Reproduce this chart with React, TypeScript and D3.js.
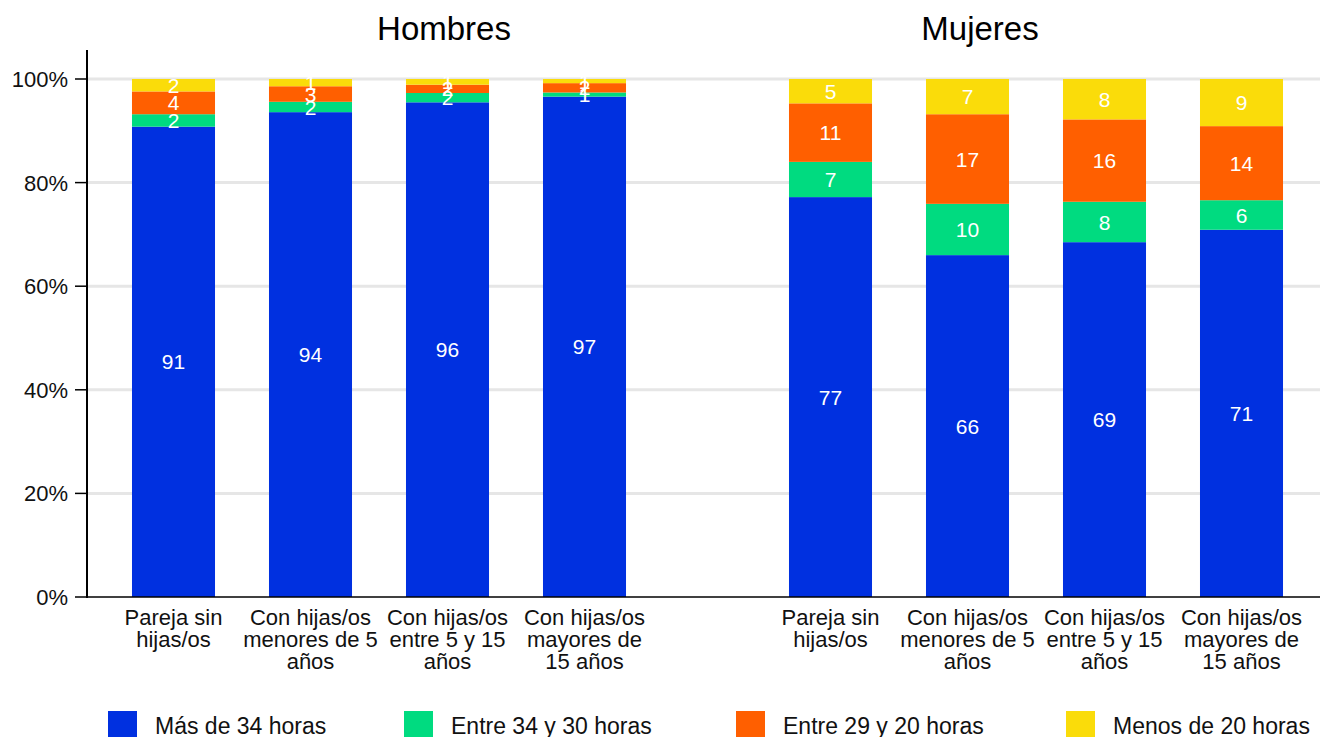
import React from "react";
import * as d3 from "d3";

const categories = [
  ["Pareja sin", "hijas/os"],
  ["Con hijas/os", "menores de 5", "años"],
  ["Con hijas/os", "entre 5 y 15", "años"],
  ["Con hijas/os", "mayores de", "15 años"],
];
const panels = ["Hombres", "Mujeres"];
const seriesNames = ["Más de 34 horas", "Entre 34 y 30 horas", "Entre 29 y 20 horas", "Menos de 20 horas"];
const colors = ["#0030e0", "#00db80", "#ff5f00", "#fadc0a"];

// Hombres values per category
const hombresMas34 = [90.8, 93.6, 95.5, 96.6];
const hombres34a30 = [2.4, 2.0, 1.8, 0.8];
const hombres29a20 = [4.4, 3.0, 1.6, 1.8];
const hombresMenos20 = [2.4, 1.4, 1.1, 0.8];
// Mujeres values per category
const mujeresMas34 = [77.2, 66.0, 68.5, 70.9];
const mujeres34a30 = [6.8, 9.9, 7.8, 5.7];
const mujeres29a20 = [11.3, 17.3, 15.9, 14.3];
const mujeresMenos20 = [4.7, 6.8, 7.8, 9.1];

const yTicks = [0, 20, 40, 60, 80, 100];

const W = 1320;
const H = 737;
const FONT = "'Liberation Sans', Arial, sans-serif";

export default function App() {
  const y = d3.scaleLinear().domain([0, 100]).range([597, 79]);
  const axisX = 87;
  const panelRanges: [number, number][] = [
    [105, 653],
    [762, 1310],
  ];
  const titleX = [444, 980];
  const panelData = [
    [hombresMas34, hombres34a30, hombres29a20, hombresMenos20],
    [mujeresMas34, mujeres34a30, mujeres29a20, mujeresMenos20],
  ];
  const catKeys = categories.map((c) => c.join(" "));
  const legendX = [108, 404, 736, 1066];

  return (
    <svg width={W} height={H} style={{ position: "absolute", left: 0, top: 0, fontFamily: FONT }}>
      <rect width={W} height={H} fill="#fff" />
      {yTicks.map((t) => (
        <g key={t}>
          {t > 0 && <line x1={axisX} x2={W} y1={y(t)} y2={y(t)} stroke="#e6e6e6" strokeWidth={3} />}
          <line x1={axisX - 12} x2={axisX} y1={y(t)} y2={y(t)} stroke="#000" strokeWidth={1.5} />
          <text x={axisX - 19} y={y(t)} dy="0.36em" textAnchor="end" fontSize={22} fill="#111">
            {t}%
          </text>
        </g>
      ))}
      {panels.map((p, pi) => {
        const x = d3.scaleBand<string>().domain(catKeys).range(panelRanges[pi]).paddingInner(0.394).paddingOuter(0.197);
        const rows = catKeys.map((k, ci) => {
          const r: any = { cat: k };
          seriesNames.forEach((s, si) => (r[s] = panelData[pi][si][ci]));
          return r;
        });
        const stacked = d3.stack<any>().keys(seriesNames)(rows);
        return (
          <g key={p}>
            <text x={titleX[pi]} y={40} textAnchor="middle" fontSize={33} fill="#000">
              {p}
            </text>
            {stacked.map((layer, si) => (
              <g key={si}>
                {layer.map((d, ci) => (
                  <rect
                    key={ci}
                    x={x(catKeys[ci])}
                    width={x.bandwidth()}
                    y={y(d[1])}
                    height={y(d[0]) - y(d[1])}
                    fill={colors[si]}
                  />
                ))}
              </g>
            ))}
            {stacked.map((layer, si) => (
              <g key={"l" + si}>
                {layer.map((d, ci) => (
                  <text
                    key={ci}
                    x={(x(catKeys[ci]) as number) + x.bandwidth() / 2}
                    y={y((d[0] + d[1]) / 2)}
                    dy="0.36em"
                    textAnchor="middle"
                    fontSize={21}
                    fill="#fff"
                  >
                    {Math.round(d[1] - d[0])}
                  </text>
                ))}
              </g>
            ))}
            {categories.map((lines, ci) => (
              <text
                key={ci}
                x={(x(catKeys[ci]) as number) + x.bandwidth() / 2}
                y={625}
                textAnchor="middle"
                fontSize={22}
                fill="#111"
              >
                {lines.map((ln, li) => (
                  <tspan key={li} x={(x(catKeys[ci]) as number) + x.bandwidth() / 2} dy={li === 0 ? 0 : 22}>
                    {ln}
                  </tspan>
                ))}
              </text>
            ))}
          </g>
        );
      })}
      <line x1={axisX} x2={W} y1={y(0)} y2={y(0)} stroke="#000" strokeWidth={1.5} />
      <line x1={axisX} x2={axisX} y1={50} y2={y(0) + 1} stroke="#000" strokeWidth={2} />
      {seriesNames.map((s, i) => (
        <g key={s}>
          <rect x={legendX[i]} y={711} width={29} height={28} fill={colors[i]} />
          <text x={legendX[i] + 47} y={734} fontSize={23} fill="#111">
            {s}
          </text>
        </g>
      ))}
    </svg>
  );
}
